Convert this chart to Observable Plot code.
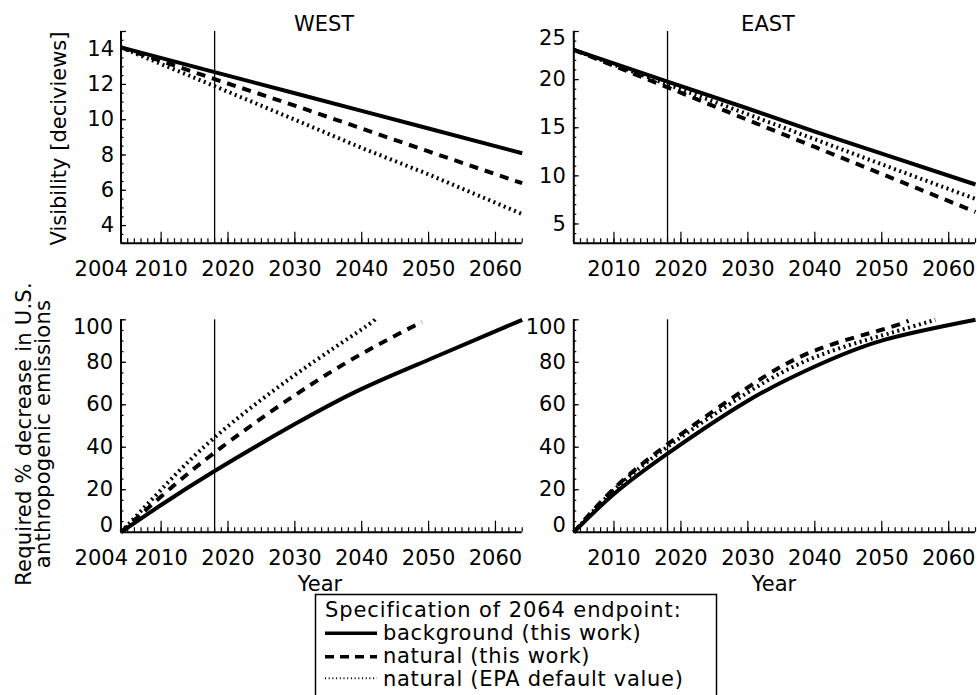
<!DOCTYPE html>
<html><head><meta charset="utf-8">
<script src="https://cdn.jsdelivr.net/npm/d3@7"></script>
<script src="https://cdn.jsdelivr.net/npm/@observablehq/plot@0.6"></script>
<style>
body{margin:0;background:#fff;}
#chart{position:relative;width:977px;height:695px;overflow:hidden;background:#fff;}
#chart > svg{position:absolute;left:0;top:0;}
</style></head><body><div id="chart"></div>
<script>
// ---- data ----
const seriesNames = ["background (this work)", "natural (this work)", "natural (EPA default value)"];
const markerYear = 2018;

const visYears = [2004, 2018, 2030, 2040, 2050, 2064];
const westVisBackground = [14.1, 12.7, 11.5, 10.5, 9.5, 8.1];
const westVisNatural = [14.1, 12.3, 10.8, 9.5, 8.2, 6.4];
const westVisEPA = [14.1, 11.9, 10.0, 8.4, 6.9, 4.65];
const eastVisBackground = [23.1, 19.8, 17.0, 14.6, 12.3, 9.1];
const eastVisNatural = [23.1, 19.2, 15.8, 13.0, 10.2, 6.25];
const eastVisEPA = [23.1, 19.5, 16.4, 13.8, 11.2, 7.6];

const westPctBackgroundYears = [2004, 2010, 2018, 2030, 2040, 2050, 2064];
const westPctBackground = [0, 12.8, 28.8, 50.9, 67.5, 81.2, 100];
const westPctNaturalYears = [2004, 2010, 2018, 2030, 2040, 2049];
const westPctNatural = [0, 16.8, 37.5, 64.5, 84, 99];
const westPctEPAYears = [2004, 2010, 2018, 2030, 2040, 2042];
const westPctEPA = [0, 20, 44.6, 74, 95.5, 100.5];

const eastPctBackgroundYears = [2004, 2010, 2018, 2030, 2040, 2050, 2064];
const eastPctBackground = [0, 18, 37, 61.9, 78, 90.2, 100];
const eastPctNaturalYears = [2004, 2010, 2018, 2030, 2040, 2050, 2054];
const eastPctNatural = [0, 20.5, 41.4, 68.2, 85.5, 95.3, 99.5];
const eastPctEPAYears = [2004, 2010, 2018, 2030, 2040, 2050, 2058];
const eastPctEPA = [0, 19.8, 40.2, 65.8, 82.4, 92.6, 100];

const xTickLabels = [2010, 2020, 2030, 2040, 2050, 2060];
const xMinorTicks = d3.range(2005, 2065, 1);
const westVisTicks = [4, 6, 8, 10, 12, 14];
const westVisMinor = d3.range(3, 15.01, 0.5);
const eastVisTicks = [5, 10, 15, 20, 25];
const eastVisMinor = d3.range(3, 25.01, 1);
const pctTicks = [0, 20, 40, 60, 80, 100];
const pctMinor = d3.range(0, 100.01, 5);

// ---- styles ----
const FONT = "DejaVu Sans";
const FS = 21;
const styles = [
  {strokeWidth: 4, strokeDasharray: null},
  {strokeWidth: 4, strokeDasharray: "9,7"},
  {strokeWidth: 4, strokeDasharray: "2,3.6"}
];

function toRows(pairs) {
  const rows = [];
  pairs.forEach(([yrs, vals], i) => yrs.forEach((y, j) => rows.push({year: y, value: vals[j], series: seriesNames[i]})));
  return rows;
}

const W = 977, H = 695;
function panel({rows, yDomain, ml, mr, mt, mb, yMajor, yMinor, yLabels, endLabels, firstLabel, pad, curve}) {
  const marks = [
    Plot.axisX(xMinorTicks, {tickSize: -4.5, fill: "none", strokeWidth: 1.2, label: null}),
    Plot.axisX(xTickLabels, {tickSize: -11, fill: "none", strokeWidth: 1.2, label: null}),
    Plot.axisX(xTickLabels, {tickSize: 0, tickPadding: 17.4, tickFormat: d => String(d), label: null}),
    Plot.axisY(yMinor, {tickSize: -3, fill: "none", strokeWidth: 1.2, label: null}),
    Plot.axisY(yMajor, {tickSize: -5.5, fill: "none", strokeWidth: 1.2, label: null}),
    Plot.axisY(yLabels, {tickSize: 0, tickPadding: pad, tickFormat: d => String(d), label: null}),
    Plot.ruleX([markerYear], {strokeWidth: 1.3}),
    Plot.ruleY([yDomain[0]], {strokeWidth: 2}),
    Plot.ruleX([2004], {strokeWidth: 2})
  ];
  endLabels.forEach(([v, dy]) => marks.push(Plot.text([v], {y: d => d, frameAnchor: "left", dx: -pad, dy, textAnchor: "end", text: d => String(d)})));
  if (firstLabel) marks.push(Plot.text([2004], {x: d => d, frameAnchor: "bottom", dy: 17.4, dx: 7, lineAnchor: "top", textAnchor: "end", text: d => String(d)}));
  seriesNames.forEach((s, i) => {
    marks.push(Plot.line(rows.filter(r => r.series === s), {x: "year", y: "value", stroke: "black", strokeWidth: styles[i].strokeWidth, strokeDasharray: styles[i].strokeDasharray, strokeLinecap: "butt", curve}));
  });
  return Plot.plot({
    width: W, height: H,
    marginLeft: ml, marginRight: mr, marginTop: mt, marginBottom: mb,
    x: {domain: [2004, 2064]},
    y: {domain: yDomain},
    style: {fontFamily: FONT, fontSize: FS + "px", background: "transparent", overflow: "visible", color: "black"},
    marks
  });
}

const chart = document.getElementById("chart");
const L1 = 120.5, R1 = W - 521.7, L2 = 573.3, R2 = 2;
const T1 = 31, B1 = H - 242.7, T2 = 319.3, B2 = H - 531.7;

chart.append(panel({
  rows: toRows([[visYears, westVisBackground], [visYears, westVisNatural], [visYears, westVisEPA]]),
  yDomain: [3, 15], ml: L1, mr: R1, mt: T1, mb: B1,
  yMajor: westVisTicks.concat([15]), yMinor: westVisMinor, yLabels: westVisTicks, endLabels: [], firstLabel: true, pad: 7, curve: "linear"
}));
chart.append(panel({
  rows: toRows([[visYears, eastVisBackground], [visYears, eastVisNatural], [visYears, eastVisEPA]]),
  yDomain: [3, 25], ml: L2, mr: R2, mt: T1, mb: B1,
  yMajor: eastVisTicks, yMinor: eastVisMinor, yLabels: [5, 10, 15, 20], endLabels: [[25, 7]], firstLabel: false, pad: 8, curve: "linear"
}));
chart.append(panel({
  rows: toRows([[westPctBackgroundYears, westPctBackground], [westPctNaturalYears, westPctNatural], [westPctEPAYears, westPctEPA]]),
  yDomain: [0, 100], ml: L1, mr: R1, mt: T2, mb: B2,
  yMajor: pctTicks, yMinor: pctMinor, yLabels: [20, 40, 60, 80], endLabels: [[100, 7], [0, -7]], firstLabel: true, pad: 8, curve: "natural"
}));
chart.append(panel({
  rows: toRows([[eastPctBackgroundYears, eastPctBackground], [eastPctNaturalYears, eastPctNatural], [eastPctEPAYears, eastPctEPA]]),
  yDomain: [0, 100], ml: L2, mr: R2, mt: T2, mb: B2,
  yMajor: pctTicks, yMinor: pctMinor, yLabels: [20, 40, 60, 80], endLabels: [[100, 7], [0, -7]], firstLabel: false, pad: 8, curve: "natural"
}));

// ---- titles, axis titles and legend ----
const svg = d3.select(chart).append("svg").attr("width", W).attr("height", H)
  .style("font-family", FONT).style("font-size", FS + "px");
const t = (x, y, s, anchor = "middle", rot = 0, ls = 0) => svg.append("text")
  .attr("transform", `translate(${x},${y}) rotate(${rot})`).attr("text-anchor", anchor)
  .style("letter-spacing", ls + "px").text(s);
t(324, 30.5, "WEST");
t(768, 30.5, "EAST");
t(320, 591, "Year");
t(774, 591, "Year");
t(66, 138.5, "Visibility [deciviews]", "middle", -90, 0);
t(31, 434, "Required % decrease in U.S.", "middle", -90, 0.25);
t(50, 434, "anthropogenic emissions", "middle", -90, 0.25);

svg.append("rect").attr("x", 315.5).attr("y", 594.5).attr("width", 401).attr("height", 200)
  .attr("fill", "none").attr("stroke", "black").attr("stroke-width", 1.5);
t(325, 617, "Specification of 2064 endpoint:", "start", 0, 0.9);
const legendSamples = [
  {y: 633.3, w: 3.5, dash: null},
  {y: 656.7, w: 3.5, dash: "9,6"},
  {y: 678.3, w: 2, dash: "1,2.7"}
];
seriesNames.forEach((s, i) => {
  const ls = legendSamples[i];
  svg.append("line").attr("x1", 325).attr("x2", 377).attr("y1", ls.y).attr("y2", ls.y)
    .attr("stroke", "black").attr("stroke-width", ls.w).attr("stroke-dasharray", ls.dash);
  t(383, 640 + 23 * i, s, "start", 0, 0.7);
});
</script></body></html>
